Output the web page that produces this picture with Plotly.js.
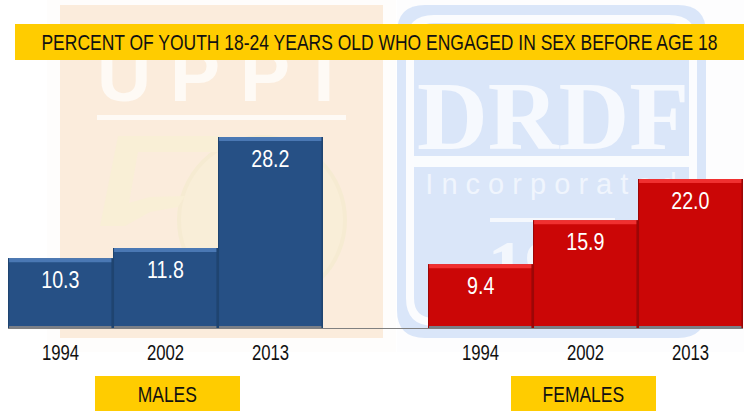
<!DOCTYPE html>
<html><head><meta charset="utf-8">
<script src="https://cdn.plot.ly/plotly-3.0.0.min.js"></script>
<style>html,body{margin:0;padding:0;background:#fff}</style></head>
<body><div id="c" style="width:744px;height:411px"></div>
<script>
const years = ["1994","2002","2013"];
const males = [10.3,11.8,28.2];
const females = [9.4,15.9,22.0];
const malePos = [0,1,2];
const femalePos = [4,5,6];
const titleText = "PERCENT OF YOUTH 18-24 YEARS OLD WHO ENGAGED IN SEX BEFORE AGE 18";

const W=744,H=411,L=8,R=743,B=328,F="'Liberation Sans',sans-serif";
const SZ=22,VAL_SZ=24,SQUEEZE=0.795,VAL_SQUEEZE=0.82,TICK_SQUEEZE=0.76;
const px=x=>(x-L)/(R-L), py=y=>(B-y)/B;
const box=(x0,y0,x1,y1,fill,layer)=>({type:'rect',xref:'paper',yref:'paper',x0:px(x0),x1:px(x1),y0:py(y0),y1:py(y1),fillcolor:fill,line:{width:0},layer:layer||'below'});
const label=(x,y,text,size,color)=>({xref:'paper',yref:'paper',x:px(x),y:py(y),text,showarrow:false,xanchor:'center',yanchor:'middle',font:{size,color,family:F}});
const wm=(x,y,text,size,color,family,weight)=>({type:'rect',xref:'paper',yref:'paper',x0:px(x-150),x1:px(x+150),y0:py(y+60),y1:py(y-60),fillcolor:'rgba(0,0,0,0)',line:{width:0},layer:'below',
  label:{text,textposition:'middle center',font:{size,color,family,weight:weight||'normal'}}});
const P=(pts,close)=>pts.map((p,i)=>(i?'L ':'M ')+px(p[0])+' '+py(p[1])).join(' ')+(close?' Z':'');
const rr=(x0,y0,x1,y1,r)=>`M ${px(x0)} ${py(y0+r)} Q ${px(x0)} ${py(y0)} ${px(x0+r)} ${py(y0)} L ${px(x1-r)} ${py(y0)} Q ${px(x1)} ${py(y0)} ${px(x1)} ${py(y0+r)} L ${px(x1)} ${py(y1-r)} Q ${px(x1)} ${py(y1)} ${px(x1-r)} ${py(y1)} L ${px(x0+r)} ${py(y1)} Q ${px(x0)} ${py(y1)} ${px(x0)} ${py(y1-r)} Z`;
const pathShape=(path,fill,lineColor,lw)=>({type:'path',xref:'paper',yref:'paper',layer:'below',path,fillcolor:fill,line:lineColor?{color:lineColor,width:lw}:{width:0}});

const shapes=[
 box(47,0,396,352,'#fefdfc'),
 box(60,5,383,338,'#fbecdc'),
 box(97,115,346,120,'#fefaf5'),
 wm(124,68,'U',75,'#fefaf5','Liberation Sans','bold'),
 wm(195,68,'P',75,'#fefaf5','Liberation Sans','bold'),
 wm(265,68,'P',75,'#fefaf5','Liberation Sans','bold'),
 wm(324,68,'I',75,'#fefaf5','Liberation Sans','bold'),
 {type:'circle',xref:'paper',yref:'paper',x0:px(179),x1:px(345),y0:py(303),y1:py(137),fillcolor:'#f9eed8',line:{color:'#f6ebd2',width:4},layer:'below'},
 pathShape(P([[118,136],[222,136],[222,152],[138,152],[129,203],[150,197],[185,196],[178,207],[150,212],[125,226],[100,226]],true),'#f9efd6'),
 box(397,0,744,352,'#fdfdfe'),
 pathShape(rr(397,5,706,338,28),'#dae6f9'),
 pathShape(rr(410,19,693,322,24),'rgba(0,0,0,0)','#fbfcfe',8),
 box(414,156,689,167,'#fafcfe'),
 wm(553,105,'DRDF',98,'#f6f9fe','Liberation Serif','bold'),
 wm(551,181,'I n c o r p o r a t e d',29,'#f0f5fd','Liberation Sans'),
 box(490,218,615,222,'#f5f8fd'),
 wm(525,258,'19',75,'#f3f7fd','Liberation Serif','bold'),
 box(15,24,744,60,'#ffcc00','above'),
 box(95,376,240,411,'#ffcc00','above'),
 box(511,376,656,411,'#ffcc00','above')
];
function bevel(pos,vals,hi,dark){
  pos.forEach((p,i)=>{
    const base={type:'rect',xref:'x',yref:'y',ysizemode:'pixel',line:{width:0},layer:'above'};
    shapes.push(Object.assign({},base,{x0:p-0.5,x1:p+0.5,yanchor:vals[i],y0:0,y1:-4,fillcolor:hi}));
    shapes.push(Object.assign({},base,{x0:p-0.5,x1:p+0.5,yanchor:0,y0:0,y1:2,fillcolor:'#7a7f88'}));
    shapes.push({type:'rect',xref:'x',yref:'y',x0:p+0.485,x1:p+0.5,y0:0,y1:vals[i],fillcolor:dark,line:{width:0},layer:'above'});
    shapes.push({type:'rect',xref:'x',yref:'y',x0:p-0.5,x1:p-0.49,y0:0,y1:vals[i],fillcolor:dark,line:{width:0},layer:'above'});
  });
}
bevel(malePos,males,'#4a78b4','#1f4470');
bevel(femalePos,females,'#f03030','#9c0606');

const annotations=[
 label(379,42,titleText,SZ,'#111111'),
 label(167,394,'MALES',SZ,'#111111'),
 label(583,394,'FEMALES',SZ,'#111111')
];
function valueLabels(pos,vals){
  pos.forEach((p,i)=>annotations.push({xref:'x',yref:'y',x:p,y:vals[i],yshift:-6,text:vals[i].toFixed(1),showarrow:false,yanchor:'top',xanchor:'center',font:{size:VAL_SZ,color:'#ffffff',family:F}}));
}
valueLabels(malePos,males);
valueLabels(femalePos,females);

const traces=[
 {type:'bar',x:malePos,y:males,width:1,marker:{color:'#265085',line:{width:0}},hoverinfo:'skip'},
 {type:'bar',x:femalePos,y:females,width:1,marker:{color:'#cb0606',line:{width:0}},hoverinfo:'skip'}
];
Plotly.newPlot('c',traces,{
 width:W,height:H,margin:{l:L,r:W-R,t:0,b:H-B,pad:0},
 paper_bgcolor:'#ffffff',plot_bgcolor:'rgba(0,0,0,0)',showlegend:false,barmode:'overlay',
 xaxis:{range:[-0.5,6.5],tickmode:'array',tickvals:malePos.concat(femalePos),ticktext:years.concat(years),
   tickfont:{size:SZ,color:'#111111',family:F},ticks:'',ticklabelstandoff:5,showgrid:false,zeroline:false,showline:true,linecolor:'#808080',linewidth:1,fixedrange:true},
 yaxis:{range:[0,B/6.77],visible:false,showgrid:false,zeroline:false,fixedrange:true},
 shapes,annotations
},{displayModeBar:false,staticPlot:true}).then(()=>{
  const squeeze=(t,s)=>{
    const b=t.getBBox(), cx=b.x+b.width/2, old=t.getAttribute('transform')||'';
    t.setAttribute('transform',`${old} translate(${cx} 0) scale(${s} 1) translate(${-cx} 0)`);
  };
  document.querySelectorAll('.xtick text').forEach(t=>squeeze(t,TICK_SQUEEZE));
  document.querySelectorAll('.annotation-text').forEach(t=>{
    squeeze(t,/^\d+\.\d$/.test(t.textContent)?VAL_SQUEEZE:SQUEEZE);
  });
});
</script></body></html>
